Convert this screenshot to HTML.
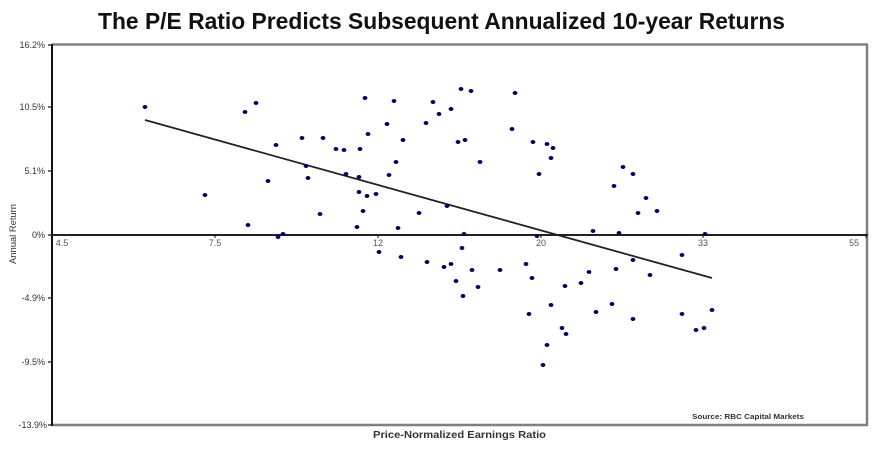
<!DOCTYPE html>
<html><head><meta charset="utf-8"><style>
html,body{margin:0;padding:0;background:#fff;}
svg{display:block;}
text{font-family:"Liberation Sans",Arial,sans-serif;}
</style></head><body>
<svg width="886" height="452" viewBox="0 0 886 452" xmlns="http://www.w3.org/2000/svg">
<rect width="886" height="452" fill="#fff"/>
<text x="98" y="29" font-size="23" font-weight="bold" fill="#111" textLength="687" lengthAdjust="spacingAndGlyphs">The P/E Ratio Predicts Subsequent Annualized 10-year Returns</text>
<!-- frame -->
<line x1="52" y1="44.5" x2="868" y2="44.5" stroke="#808080" stroke-width="2.5"/>
<line x1="867" y1="44" x2="867" y2="426" stroke="#808080" stroke-width="2.5"/>
<line x1="52" y1="425" x2="868" y2="425" stroke="#808080" stroke-width="2.5"/>
<line x1="52" y1="44" x2="52" y2="426" stroke="#111" stroke-width="2"/>
<line x1="52" y1="235" x2="868" y2="235" stroke="#222" stroke-width="2"/>
<!-- y ticks -->
<g stroke="#111" stroke-width="1.2">
<line x1="48" y1="45" x2="52" y2="45"/><line x1="48" y1="107" x2="52" y2="107"/><line x1="48" y1="171" x2="52" y2="171"/><line x1="48" y1="235" x2="52" y2="235"/><line x1="48" y1="298" x2="52" y2="298"/><line x1="48" y1="362" x2="52" y2="362"/><line x1="48" y1="425" x2="52" y2="425"/>
</g>
<g stroke="#111" stroke-width="1">
<line x1="215" y1="235" x2="215" y2="238"/><line x1="378" y1="235" x2="378" y2="238"/><line x1="541" y1="235" x2="541" y2="238"/><line x1="703" y1="235" x2="703" y2="238"/><line x1="866" y1="235" x2="866" y2="238"/>
</g>
<g font-size="9" fill="#333" text-anchor="end">
<text x="45" y="48">16.2%</text>
<text x="45" y="110">10.5%</text>
<text x="45" y="174">5.1%</text>
<text x="45" y="238">0%</text>
<text x="45" y="301">-4.9%</text>
<text x="45" y="365">-9.5%</text>
<text x="47" y="428">-13.9%</text>
</g>
<g font-size="9" fill="#555" text-anchor="middle">
<text x="62" y="246">4.5</text>
<text x="215" y="246">7.5</text>
<text x="378" y="246">12</text>
<text x="541" y="246">20</text>
<text x="703" y="246">33</text>
<text x="854" y="246">55</text>
</g>
<text transform="translate(16,234) rotate(-90)" font-size="9" fill="#333" text-anchor="middle" textLength="60" lengthAdjust="spacingAndGlyphs">Annual Return</text>
<text x="373" y="438" font-size="10" font-weight="bold" fill="#333" textLength="173" lengthAdjust="spacingAndGlyphs">Price-Normalized Earnings Ratio</text>
<text x="692" y="419" font-size="7.5" font-weight="bold" fill="#333" textLength="112" lengthAdjust="spacingAndGlyphs">Source: RBC Capital Markets</text>
<!-- trend line -->
<line x1="145" y1="120" x2="712" y2="278" stroke="#222" stroke-width="1.8"/>
<!-- dots -->
<g fill="#000066">
<ellipse cx="145" cy="107" rx="2.4" ry="2"/><ellipse cx="245" cy="112" rx="2.4" ry="2"/><ellipse cx="256" cy="103" rx="2.4" ry="2"/><ellipse cx="205" cy="195" rx="2.4" ry="2"/><ellipse cx="276" cy="145" rx="2.4" ry="2"/><ellipse cx="268" cy="181" rx="2.4" ry="2"/><ellipse cx="248" cy="225" rx="2.4" ry="2"/><ellipse cx="278" cy="237" rx="2.4" ry="2"/><ellipse cx="283" cy="234" rx="2.4" ry="2"/><ellipse cx="302" cy="138" rx="2.4" ry="2"/><ellipse cx="306" cy="166" rx="2.4" ry="2"/><ellipse cx="308" cy="178" rx="2.4" ry="2"/>
<ellipse cx="323" cy="138" rx="2.4" ry="2"/><ellipse cx="365" cy="98" rx="2.4" ry="2"/><ellipse cx="394" cy="101" rx="2.4" ry="2"/><ellipse cx="433" cy="102" rx="2.4" ry="2"/><ellipse cx="461" cy="89" rx="2.4" ry="2"/><ellipse cx="471" cy="91" rx="2.4" ry="2"/><ellipse cx="515" cy="93" rx="2.4" ry="2"/><ellipse cx="439" cy="114" rx="2.4" ry="2"/><ellipse cx="451" cy="109" rx="2.4" ry="2"/><ellipse cx="387" cy="124" rx="2.4" ry="2"/><ellipse cx="426" cy="123" rx="2.4" ry="2"/><ellipse cx="368" cy="134" rx="2.4" ry="2"/><ellipse cx="403" cy="140" rx="2.4" ry="2"/><ellipse cx="458" cy="142" rx="2.4" ry="2"/><ellipse cx="465" cy="140" rx="2.4" ry="2"/><ellipse cx="512" cy="129" rx="2.4" ry="2"/><ellipse cx="533" cy="142" rx="2.4" ry="2"/><ellipse cx="547" cy="144" rx="2.4" ry="2"/><ellipse cx="553" cy="148" rx="2.4" ry="2"/><ellipse cx="551" cy="158" rx="2.4" ry="2"/><ellipse cx="336" cy="149" rx="2.4" ry="2"/><ellipse cx="344" cy="150" rx="2.4" ry="2"/><ellipse cx="360" cy="149" rx="2.4" ry="2"/><ellipse cx="396" cy="162" rx="2.4" ry="2"/><ellipse cx="480" cy="162" rx="2.4" ry="2"/><ellipse cx="346" cy="174" rx="2.4" ry="2"/><ellipse cx="359" cy="177" rx="2.4" ry="2"/><ellipse cx="389" cy="175" rx="2.4" ry="2"/><ellipse cx="539" cy="174" rx="2.4" ry="2"/><ellipse cx="359" cy="192" rx="2.4" ry="2"/><ellipse cx="367" cy="196" rx="2.4" ry="2"/><ellipse cx="376" cy="194" rx="2.4" ry="2"/><ellipse cx="447" cy="206" rx="2.4" ry="2"/><ellipse cx="320" cy="214" rx="2.4" ry="2"/><ellipse cx="363" cy="211" rx="2.4" ry="2"/><ellipse cx="419" cy="213" rx="2.4" ry="2"/><ellipse cx="357" cy="227" rx="2.4" ry="2"/><ellipse cx="398" cy="228" rx="2.4" ry="2"/><ellipse cx="464" cy="234" rx="2.4" ry="2"/><ellipse cx="537" cy="236" rx="2.4" ry="2"/><ellipse cx="379" cy="252" rx="2.4" ry="2"/><ellipse cx="401" cy="257" rx="2.4" ry="2"/><ellipse cx="462" cy="248" rx="2.4" ry="2"/>
<ellipse cx="623" cy="167" rx="2.4" ry="2"/><ellipse cx="633" cy="174" rx="2.4" ry="2"/><ellipse cx="614" cy="186" rx="2.4" ry="2"/><ellipse cx="646" cy="198" rx="2.4" ry="2"/><ellipse cx="638" cy="213" rx="2.4" ry="2"/><ellipse cx="657" cy="211" rx="2.4" ry="2"/><ellipse cx="593" cy="231" rx="2.4" ry="2"/><ellipse cx="619" cy="233" rx="2.4" ry="2"/><ellipse cx="705" cy="234" rx="2.4" ry="2"/><ellipse cx="682" cy="255" rx="2.4" ry="2"/>
<ellipse cx="427" cy="262" rx="2.4" ry="2"/><ellipse cx="444" cy="267" rx="2.4" ry="2"/><ellipse cx="451" cy="264" rx="2.4" ry="2"/><ellipse cx="472" cy="270" rx="2.4" ry="2"/><ellipse cx="456" cy="281" rx="2.4" ry="2"/><ellipse cx="478" cy="287" rx="2.4" ry="2"/><ellipse cx="463" cy="296" rx="2.4" ry="2"/><ellipse cx="500" cy="270" rx="2.4" ry="2"/><ellipse cx="526" cy="264" rx="2.4" ry="2"/><ellipse cx="532" cy="278" rx="2.4" ry="2"/><ellipse cx="529" cy="314" rx="2.4" ry="2"/><ellipse cx="551" cy="305" rx="2.4" ry="2"/><ellipse cx="565" cy="286" rx="2.4" ry="2"/><ellipse cx="581" cy="283" rx="2.4" ry="2"/><ellipse cx="589" cy="272" rx="2.4" ry="2"/><ellipse cx="562" cy="328" rx="2.4" ry="2"/><ellipse cx="566" cy="334" rx="2.4" ry="2"/><ellipse cx="547" cy="345" rx="2.4" ry="2"/><ellipse cx="543" cy="365" rx="2.4" ry="2"/>
<ellipse cx="633" cy="260" rx="2.4" ry="2"/><ellipse cx="616" cy="269" rx="2.4" ry="2"/><ellipse cx="650" cy="275" rx="2.4" ry="2"/><ellipse cx="596" cy="312" rx="2.4" ry="2"/><ellipse cx="612" cy="304" rx="2.4" ry="2"/><ellipse cx="633" cy="319" rx="2.4" ry="2"/><ellipse cx="682" cy="314" rx="2.4" ry="2"/><ellipse cx="712" cy="310" rx="2.4" ry="2"/><ellipse cx="696" cy="330" rx="2.4" ry="2"/><ellipse cx="704" cy="328" rx="2.4" ry="2"/>
</g>
</svg>
</body></html>
